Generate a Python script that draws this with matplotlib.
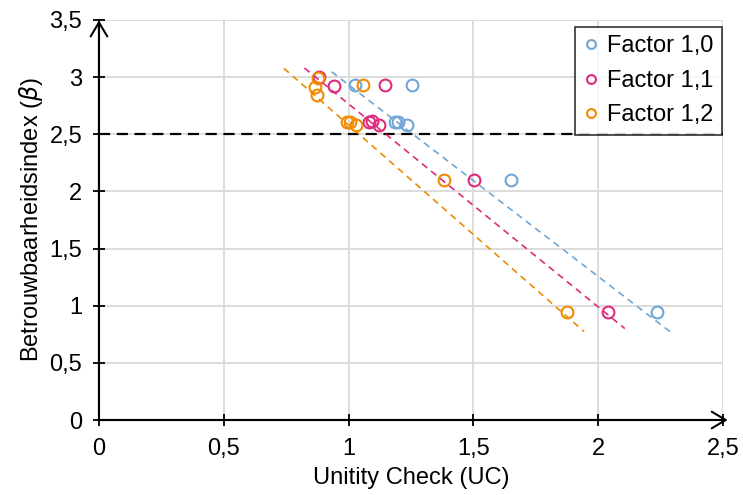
import matplotlib as mpl

mpl.use("Agg")
import matplotlib.pyplot as plt
from matplotlib.patches import FancyArrowPatch

plt.rcParams["font.family"] = ["Liberation Sans", "DejaVu Sans"]

BLUE, PINK, ORANGE = "#6FA6D6", "#DD2A7B", "#F08A00"
GRID = "#D9D9D9"

# Factor 1,0
uc_10 = [1.026, 1.255, 1.186, 1.199, 1.233, 1.650, 2.234]
beta_10 = [2.928, 2.935, 2.610, 2.610, 2.585, 2.100, 0.948]
# Factor 1,1
uc_11 = [0.880, 0.943, 1.146, 1.082, 1.092, 1.122, 1.502, 2.041]
beta_11 = [3.000, 2.922, 2.935, 2.610, 2.612, 2.585, 2.100, 0.948]
# Factor 1,2
uc_12 = [0.879, 0.866, 0.873, 1.056, 0.992, 1.006, 1.028, 1.383, 1.874]
beta_12 = [2.990, 2.916, 2.843, 2.935, 2.607, 2.607, 2.578, 2.100, 0.948]

# trendlines (start/end)
trend_x_10, trend_y_10 = [0.932, 2.288], [3.047, 0.773]
trend_x_11, trend_y_11 = [0.823, 2.107], [3.080, 0.800]
trend_x_12, trend_y_12 = [0.741, 1.944], [3.077, 0.773]

beta_target = 2.5
x_ticks = [0, 0.5, 1, 1.5, 2, 2.5]
y_ticks = [0, 0.5, 1, 1.5, 2, 2.5, 3, 3.5]
FS = 17


def fmt(v):
    return f"{v:g}".replace(".", ",")


fig = plt.figure(figsize=(7.43, 4.95), dpi=100)
ax = fig.add_axes([0.1332, 0.1515, 0.8398, 0.8081])

ax.set_xlim(0, 2.5)
ax.set_ylim(0, 3.5)
ax.set_xticks(x_ticks)
ax.set_yticks(y_ticks)
ax.set_xticklabels([fmt(v) for v in x_ticks])
ax.set_yticklabels([fmt(v) for v in y_ticks])
ax.grid(True, color=GRID, lw=1.3, zorder=0)
ax.set_axisbelow(True)
ax.tick_params(direction="inout", length=8, width=1.3, labelsize=FS, colors="black")
ax.tick_params(axis="x", pad=9)
ax.tick_params(axis="y", pad=8)
for side in ["top", "right"]:
    ax.spines[side].set_visible(False)
for side in ["left", "bottom"]:
    ax.spines[side].set_linewidth(1.5)

ax.plot([0, 2.5], [beta_target, beta_target], color="black", lw=1.6, dashes=(5, 3), zorder=2)

series = [
    (uc_10, beta_10, trend_x_10, trend_y_10, BLUE, "Factor 1,0"),
    (uc_11, beta_11, trend_x_11, trend_y_11, PINK, "Factor 1,1"),
    (uc_12, beta_12, trend_x_12, trend_y_12, ORANGE, "Factor 1,2"),
]
for x, y, tx, ty, c, lab in series:
    ax.plot(x, y, ls="none", marker="o", ms=8.5, mfc="none", mec=c, mew=1.5, label=lab, zorder=3)
for x, y, tx, ty, c, lab in series:
    ax.plot(tx, ty, color=c, lw=1.2, dashes=(4, 3), zorder=4)

for end in [(0, 3.52), (2.53, 0)]:
    arr = FancyArrowPatch((0, 0), end, transform=ax.transData, arrowstyle="->,head_length=0.5,head_width=0.3",
                          mutation_scale=20, lw=1.5, color="black", clip_on=False, zorder=5)
    ax.add_patch(arr)

ax.set_xlabel("Unitity Check (UC)", fontsize=FS, labelpad=5)
ax.set_ylabel(r"Betrouwbaarheidsindex ($\beta$)", fontsize=FS, labelpad=3)

leg = ax.legend(loc="upper right", bbox_to_anchor=(0.998, 0.9825), borderaxespad=0, fontsize=FS,
                markerscale=0.75, handlelength=0.6, handletextpad=0.4, labelspacing=0.53,
                frameon=True, fancybox=False, edgecolor="black", borderpad=0.35)
leg.get_frame().set_linewidth(1.2)
leg.set_zorder(6)

fig.savefig("out.png", dpi=100, facecolor="white")
